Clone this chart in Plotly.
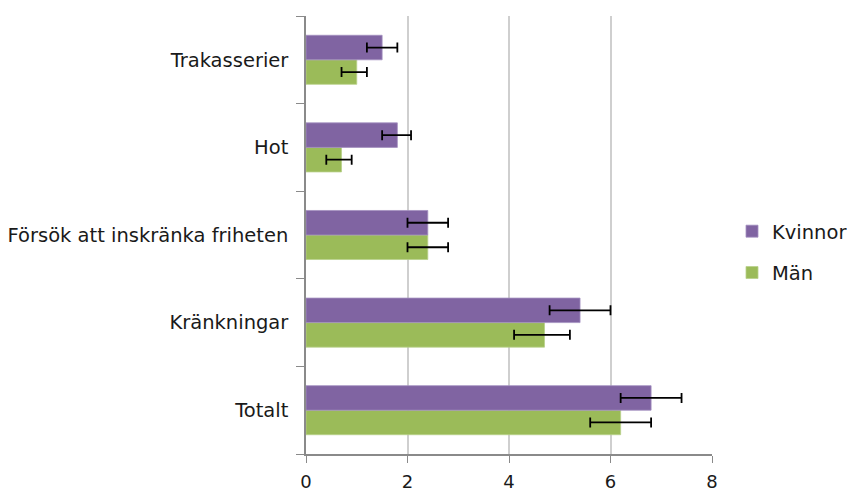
import plotly.graph_objects as go

# Categories listed bottom-to-top as they appear on the y axis
categories = ["Totalt", "Kränkningar", "Försök att inskränka friheten", "Hot", "Trakasserier"]

kvinnor = [6.8, 5.4, 2.4, 1.8, 1.5]
kvinnor_err_plus = [0.6, 0.6, 0.4, 0.27, 0.3]
kvinnor_err_minus = [0.6, 0.6, 0.4, 0.3, 0.3]

man = [6.2, 4.7, 2.4, 0.7, 1.0]
man_err_plus = [0.6, 0.5, 0.4, 0.2, 0.2]
man_err_minus = [0.6, 0.6, 0.4, 0.3, 0.3]

x_ticks = [0, 2, 4, 6, 8]

FONT = "DejaVu Sans"
FSIZE = 19.5
PURPLE = "#8064A2"
GREEN = "#9BBB59"

fig = go.Figure()

# Män drawn first so it sits in the lower half of each group
fig.add_trace(go.Bar(
    name="Män", y=categories, x=man, orientation="h",
    marker=dict(color=GREEN, line=dict(color="#b9d08a", width=0.8)),
    error_x=dict(type="data", symmetric=False, array=man_err_plus,
                 arrayminus=man_err_minus, color="black", thickness=1.8, width=5),
    legendgroup="m", legendrank=2,
))
fig.add_trace(go.Bar(
    name="Kvinnor", y=categories, x=kvinnor, orientation="h",
    marker=dict(color=PURPLE, line=dict(color="#a390c0", width=0.8)),
    error_x=dict(type="data", symmetric=False, array=kvinnor_err_plus,
                 arrayminus=kvinnor_err_minus, color="black", thickness=1.8, width=5),
    legendgroup="k", legendrank=1,
))

fig.update_layout(
    width=847, height=496,
    margin=dict(l=306, r=135, t=16, b=42, autoexpand=False),
    paper_bgcolor="white", plot_bgcolor="white",
    barmode="group", bargap=0.44, bargroupgap=0,
    font=dict(family=FONT, size=FSIZE, color="#1a1a1a"),
    legend=dict(
        xref="container", yref="container",
        x=732 / 847, y=1 - 252 / 496, xanchor="left", yanchor="middle",
        traceorder="grouped", tracegroupgap=13,
        font=dict(family=FONT, size=FSIZE, color="#1a1a1a"),
        bgcolor="rgba(0,0,0,0)",
    ),
    xaxis=dict(
        range=[0, 8], tickvals=x_ticks, ticktext=[str(v) for v in x_ticks],
        tickfont=dict(family=FONT, size=18, color="#1a1a1a"),
        showgrid=True, gridcolor="#cfcfcf", gridwidth=1.5,
        showline=True, linecolor="#8a8a8a", linewidth=1.5,
        ticks="outside", ticklen=7, tickcolor="#8a8a8a", tickwidth=1.2,
        ticklabelstandoff=4, zeroline=False, automargin=False,
    ),
    yaxis=dict(
        type="category", categoryorder="array", categoryarray=categories,
        showgrid=False, showline=True, linecolor="#8a8a8a", linewidth=1.5,
        ticks="outside", tickson="boundaries", ticklen=8,
        tickcolor="#8a8a8a", tickwidth=1.2, ticklabelstandoff=12,
        automargin=False,
    ),
)

fig.write_html("out.html")
